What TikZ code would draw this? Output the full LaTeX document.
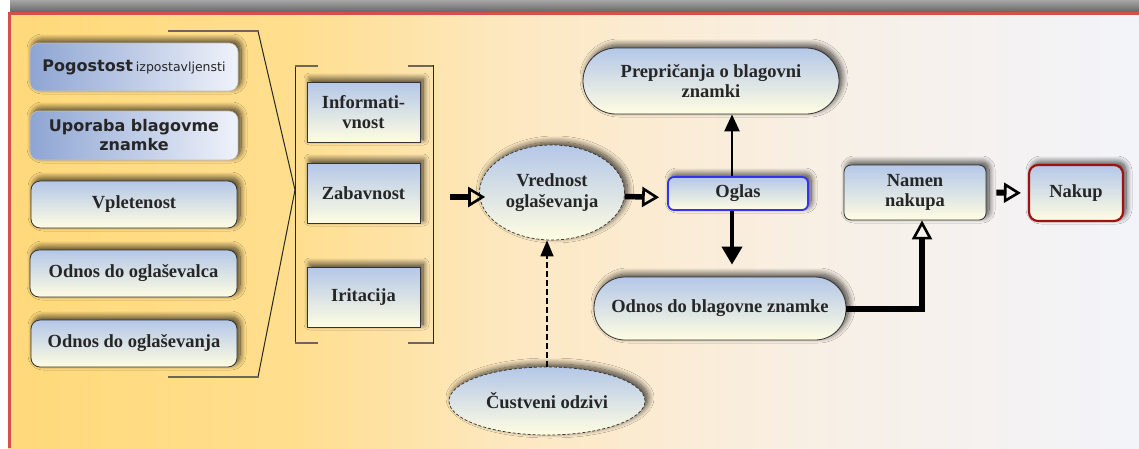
\documentclass[tikz,border=0pt]{standalone}
\usepackage{fontspec}
\setmainfont{Liberation Serif}
\newfontfamily\dejasans{DejaVu Sans}
\usetikzlibrary{arrows.meta,shapes.geometric,shadows.blur,calc}
\definecolor{txt}{HTML}{262626}
\definecolor{bgA}{HTML}{FFD97A}
\definecolor{bgB}{HTML}{FFDE8E}
\definecolor{bgC}{HTML}{FDE8C2}
\definecolor{bgD}{HTML}{F8EFE4}
\definecolor{bgE}{HTML}{F2F4FA}
\definecolor{boxT}{HTML}{B4C7E8}
\definecolor{boxB}{HTML}{FFFDE2}
\definecolor{hboxL}{HTML}{8EA5D3}
\definecolor{hboxR}{HTML}{EFF2FA}
\definecolor{framered}{HTML}{D2514A}
\definecolor{oglasblue}{HTML}{3434F0}
\definecolor{nakupred}{HTML}{A01212}
\definecolor{brk}{HTML}{6E6658}
\pgfdeclarehorizontalshading{bgshade}{100bp}{color(0bp)=(bgA); color(25bp)=(bgA); color(37.5bp)=(bgB); color(47.5bp)=(bgC); color(60bp)=(bgD); color(75bp)=(bgE); color(100bp)=(bgE)}
\newcommand\serifbold{\fontsize{18.5}{20.5}\selectfont\bfseries}
\newcommand\sansbig{\dejasans\fontsize{16}{19}\selectfont\bfseries}
\newcommand\sanssmall{\dejasans\fontsize{12.5}{15}\selectfont}
\tikzset{
  shad/.style={blur shadow={shadow xshift=3pt, shadow yshift=3pt, shadow blur radius=6pt, shadow opacity=75, shadow blur steps=12}},
  vbox/.style={shad, draw=black!80, line width=0.8pt, top color=boxT, bottom color=boxB, text=txt, font=\serifbold, align=center, inner sep=2pt},
  hbox/.style={shad, draw=black!25, line width=0.6pt, left color=hboxL, right color=hboxR, text=txt, align=center, inner sep=2pt},
  lbox/.style={minimum width=208pt, minimum height=48pt, rounded corners=9pt},
  ibox/.style={vbox, minimum width=113pt, minimum height=60pt},
  oval/.style={vbox, ellipse, densely dashed, line width=0.7pt},
  openhead/.tip={Triangle[open, length=17pt, width=20pt, line width=2.6pt]},
  openarr/.style={line width=5.5pt, -openhead},
  fillarr/.style={line width=2.5pt, -{Triangle[length=17pt, width=15pt]}},
  brkline/.style={brk, line width=2.5pt},
}
\begin{document}
\begin{tikzpicture}[x=1pt, y=-1pt]
\useasboundingbox (0,0) rectangle (1139,448);
% background
\fill[white] (0,0) rectangle (1139,448);
\fill[top color=black!35, bottom color=black!60] (10,0) rectangle (1139,12);
\shade[shading=bgshade] (8,12) rectangle (1139,448);
\draw[framered, line width=3pt] (9.5,448) -- (9.5,13.5) -- (1139,13.5);

% left boxes
\node[hbox, lbox] (b1) at (134,67) {{\sansbig Pogostost}\hspace{3pt}{\sanssmall izpostavljensti}};
\node[hbox, lbox, minimum height=49pt, font=\sansbig] (b2) at (134,135.5) {Uporaba blagovme\\znamke};
\node[vbox, lbox, minimum width=206pt, minimum height=47pt] (b3) at (134,204.5) {Vpletenost};
\node[vbox, lbox, minimum width=207pt, minimum height=47pt] (b4) at (133.5,273.5) {Odnos do ogla\v{s}evalca};
\node[vbox, lbox, minimum width=206pt, minimum height=47pt] (b5) at (134,343.5) {Odnos do ogla\v{s}evanja};

% big angle bracket
\draw[black!85, line width=1pt] (258,31) -- (295,190) -- (258,377);
\draw[brkline] (168,31) -- (259,31);
\draw[brkline] (168,377) -- (259,377);

% square bracket
\draw[black!85, line width=1pt] (295,65) -- (295,344);
\draw[black!85, line width=1pt] (433,65) -- (433,344);
\draw[brkline] (295,66) -- (318,66);
\draw[brkline] (295,343) -- (318,343);
\draw[brkline] (408,66) -- (433,66);
\draw[brkline] (408,343) -- (433,343);

% inner boxes
\node[ibox] (inf) at (363.5,112) {Informati-\\vnost};
\node[ibox] (zab) at (363.5,193) {Zabavnost};
\node[ibox] (iri) at (363.5,297) {Iritacija};

% right part
\node[oval, minimum width=145pt, minimum height=95pt, inner sep=0pt] (vred) at (552,192.5) {Vrednost\\ogla\v{s}evanja};
\node[oval, minimum width=196pt, minimum height=68pt, inner sep=0pt] (cust) at (547,401) {\v{C}ustveni odzivi};
\node[vbox, draw=oglasblue, line width=1.8pt, rounded corners=6pt, minimum width=140pt, minimum height=33pt] (oglas) at (738,193.5) {Oglas};
\node[vbox, rounded corners=33pt, minimum width=256pt, minimum height=66pt] (prep) at (711,81) {Prepri\v{c}anja o blagovni\\znamki};
\node[vbox, rounded corners=31pt, minimum width=252pt, minimum height=63pt] (odnos) at (720,308.5) {Odnos do blagovne znamke};
\node[vbox, rounded corners=7pt, minimum width=142pt, minimum height=55pt] (namen) at (915,192.5) {Namen\\nakupa};
\node[vbox, draw=nakupred, line width=2.2pt, rounded corners=9pt, minimum width=94pt, minimum height=56pt] (nakup) at (1076,193) {Nakup};

% connectors
\coordinate (brkout) at (450,197);
\draw[openarr, shorten >=-6pt] (brkout) -- (vred.west |- brkout);
\draw[openarr, shorten >=8pt] ([yshift=-4pt]vred.east) -- ([yshift=-4pt]oglas.west);
\draw[fillarr] ([xshift=-6pt]oglas.north) -- ([xshift=-6pt]oglas.north |- prep.south);
\draw[line width=4pt, shorten >=12pt, -{Triangle[length=18pt, width=20pt]}] ([xshift=-6pt]oglas.south) -- ([xshift=-6pt]oglas.south |- odnos.north);
\draw[line width=1.6pt, dash pattern=on 6pt off 3pt, -{Triangle[length=16pt, width=13pt]}] (cust.north) -- (cust.north |- vred.south);
\draw[line width=6pt, -{Triangle[open, length=19pt, width=20pt, line width=2.6pt]}] (odnos.east) -| ([xshift=7pt]namen.south);
\draw[openarr, line width=6pt, shorten <=10pt, shorten >=7pt] (namen.east) -- (nakup.west);
\end{tikzpicture}
\end{document}
